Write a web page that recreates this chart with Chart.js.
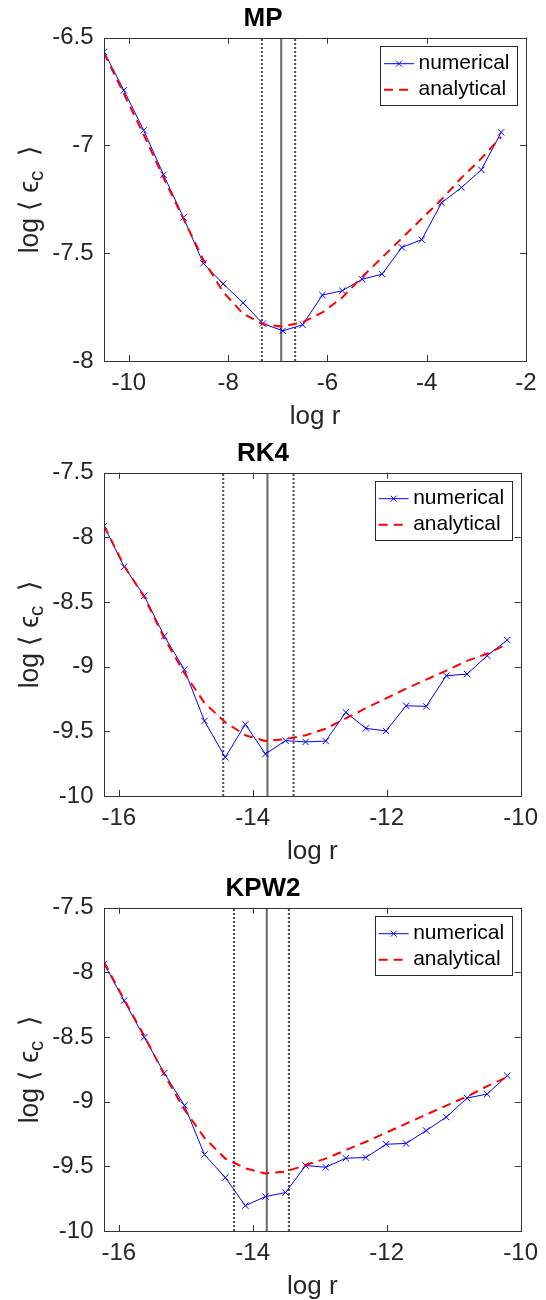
<!DOCTYPE html>
<html>
<head>
<meta charset="utf-8">
<script src="https://cdn.jsdelivr.net/npm/chart.js@4.4.1/dist/chart.umd.min.js"></script>
<style>
html, body { margin: 0; padding: 0; background: #fff; overflow: hidden; }
canvas { display: block; }
</style>
</head>
<body>
<canvas id="chartMP" width="546" height="435"></canvas>
<canvas id="chartRK4" width="546" height="435"></canvas>
<canvas id="chartKPW2" width="546" height="435"></canvas>
<script>
// MP
var mpX = [-10.5, -10.1, -9.7, -9.3, -8.9, -8.5, -8.1, -7.7, -7.3, -6.9, -6.5, -6.1, -5.7, -5.3, -4.9, -4.5, -4.1, -3.7, -3.3, -2.9, -2.5];
var mpNum = [-6.565, -6.744, -6.93, -7.136, -7.334, -7.547, -7.642, -7.73, -7.826, -7.86, -7.832, -7.694, -7.674, -7.621, -7.597, -7.473, -7.437, -7.266, -7.195, -7.113, -6.939];
var mpAna = [-6.57, -6.76, -6.95, -7.15, -7.34, -7.53, -7.68, -7.78, -7.83, -7.84, -7.82, -7.775, -7.705, -7.61, -7.52, -7.43, -7.34, -7.25, -7.15, -7.06, -6.96];
var mpLines = [-7.32, -6.93, -6.65];
var mpXTicks = [-10, -8, -6, -4, -2];
var mpYTicks = [-6.5, -7, -7.5, -8];

// RK4
var rkX = [-16.22, -15.92, -15.62, -15.32, -15.02, -14.72, -14.41, -14.11, -13.81, -13.51, -13.21, -12.91, -12.61, -12.31, -12.01, -11.71, -11.41, -11.11, -10.80, -10.50, -10.20];
var rkNum = [-7.912, -8.227, -8.451, -8.763, -9.023, -9.42, -9.701, -9.446, -9.675, -9.572, -9.582, -9.575, -9.353, -9.477, -9.497, -9.302, -9.307, -9.07, -9.057, -8.915, -8.794];
var rkAna = [-7.91, -8.22, -8.46, -8.78, -9.05, -9.28, -9.43, -9.53, -9.575, -9.56, -9.53, -9.48, -9.40, -9.32, -9.245, -9.17, -9.10, -9.03, -8.955, -8.90, -8.825];
var rkLines = [-14.44, -13.78, -13.39];

// KPW2
var kpX = [-16.22, -15.92, -15.62, -15.32, -15.02, -14.72, -14.41, -14.11, -13.81, -13.51, -13.21, -12.91, -12.61, -12.31, -12.01, -11.71, -11.41, -11.11, -10.80, -10.50, -10.20];
var kpNum = [-7.934, -8.218, -8.502, -8.779, -9.029, -9.409, -9.587, -9.804, -9.734, -9.703, -9.494, -9.507, -9.437, -9.432, -9.329, -9.323, -9.223, -9.119, -8.972, -8.941, -8.799];
var kpAna = [-7.92, -8.21, -8.49, -8.79, -9.06, -9.28, -9.44, -9.515, -9.555, -9.54, -9.49, -9.44, -9.375, -9.31, -9.24, -9.17, -9.10, -9.03, -8.96, -8.88, -8.81];
var kpLines = [-14.28, -13.79, -13.46];

var rkXTicks = [-16, -14, -12, -10];
var rkYTicks = [-7.5, -8, -8.5, -9, -9.5, -10];

var FONT = "'Liberation Sans', Arial, Helvetica, sans-serif";
Chart.defaults.font.family = FONT;
Chart.defaults.color = '#262626';

// box round the plot with inward ticks on all four sides
var frameTicks = {
    id: 'frameTicks',
    afterDatasetsDraw: function (chart) {
        var ctx = chart.ctx, a = chart.chartArea;
        var xs = chart.scales.x, ys = chart.scales.y;
        ctx.save();
        ctx.strokeStyle = '#333333';
        ctx.lineWidth = 1;
        ctx.beginPath();
        xs.ticks.forEach(function (t) {
            var px = Math.round(xs.getPixelForValue(t.value)) + 0.5;
            ctx.moveTo(px, a.bottom); ctx.lineTo(px, a.bottom - 6);
            ctx.moveTo(px, a.top); ctx.lineTo(px, a.top + 6);
        });
        ys.ticks.forEach(function (t) {
            var py = Math.round(ys.getPixelForValue(t.value)) + 0.5;
            ctx.moveTo(a.left, py); ctx.lineTo(a.left + 6, py);
            ctx.moveTo(a.right, py); ctx.lineTo(a.right - 6, py);
        });
        ctx.stroke();
        ctx.strokeRect(Math.round(a.left) + 0.5, Math.round(a.top) + 0.5,
            Math.round(a.right - a.left), Math.round(a.bottom - a.top));
        ctx.restore();
    }
};

// legend box inside the plot, top right
var boxLegend = {
    id: 'boxLegend',
    afterDraw: function (chart) {
        var ctx = chart.ctx, a = chart.chartArea;
        var w = 137, h = 59;
        var left = a.right - 9 - w, top = a.top + 8;
        ctx.save();
        ctx.fillStyle = '#ffffff';
        ctx.fillRect(left, top, w, h);
        ctx.strokeStyle = '#262626';
        ctx.lineWidth = 1;
        ctx.strokeRect(Math.round(left) + 0.5, Math.round(top) + 0.5, w, h);
        var y1 = top + 18, y2 = top + 44;
        // numerical
        ctx.strokeStyle = '#0000ff';
        ctx.beginPath();
        ctx.moveTo(left + 4, y1); ctx.lineTo(left + 34, y1);
        ctx.moveTo(left + 16, y1 - 3); ctx.lineTo(left + 22, y1 + 3);
        ctx.moveTo(left + 16, y1 + 3); ctx.lineTo(left + 22, y1 - 3);
        ctx.stroke();
        // analytical
        ctx.strokeStyle = '#ff0000';
        ctx.lineWidth = 2;
        ctx.setLineDash([9, 6]);
        ctx.beginPath();
        ctx.moveTo(left + 4, y2); ctx.lineTo(left + 34, y2);
        ctx.stroke();
        ctx.setLineDash([]);
        ctx.fillStyle = '#000000';
        ctx.font = '21px ' + FONT;
        ctx.textBaseline = 'middle';
        ctx.fillText('numerical', left + 38.5, y1);
        ctx.fillText('analytical', left + 38.5, y2);
        ctx.restore();
    }
};

// y axis title with a subscript c
var yTitle = {
    id: 'yTitle',
    afterDraw: function (chart) {
        var ctx = chart.ctx, a = chart.chartArea;
        var big = '27px ' + FONT, small = '21px ' + FONT;
        ctx.save();
        ctx.translate(38, (a.top + a.bottom) / 2);
        ctx.rotate(-Math.PI / 2);
        ctx.fillStyle = '#262626';
        ctx.textBaseline = 'alphabetic';
        ctx.font = big;
        var w1 = ctx.measureText('log \u27E8 \u03F5').width;
        var w3 = ctx.measureText('  \u27E9').width;
        ctx.font = small;
        var w2 = ctx.measureText('c').width;
        var total = w1 + w2 + w3;
        var sx = Math.min(1, 108 / total);
        ctx.scale(sx, 1);
        var x = -total / 2;
        ctx.font = big;
        ctx.fillText('log \u27E8 \u03F5', x, 0);
        x += w1;
        ctx.font = small;
        ctx.fillText('c', x, 5);
        x += w2;
        ctx.font = big;
        ctx.fillText('  \u27E9', x, 0);
        ctx.restore();
    }
};

function pts(xs, ys) {
    return xs.map(function (v, i) { return { x: v, y: ys[i] }; });
}

function vline(v, yMin, yMax, dotted) {
    return {
        data: [{ x: v, y: yMin }, { x: v, y: yMax }],
        borderColor: dotted ? '#4d4d4d' : '#666666',
        borderWidth: dotted ? 2 : 2,
        borderDash: dotted ? [2, 2] : [],
        pointRadius: 0,
        order: 2
    };
}

function makeChart(id, title, xs, num, ana, lines, xMin, xMax, yMin, yMax, xTicks, yTicks) {
    var data = {
        datasets: [{
            label: 'analytical',
            data: pts(xs, ana),
            borderColor: '#ff0000',
            borderWidth: 2,
            borderDash: [9, 6],
            pointRadius: 0,
            order: 0
        }, {
            label: 'numerical',
            data: pts(xs, num),
            borderColor: '#0000ff',
            backgroundColor: '#0000ff',
            borderWidth: 1,
            pointStyle: 'crossRot',
            pointRadius: 4.5,
            pointBorderWidth: 1,
            order: 1
        },
        vline(lines[0], yMin, yMax, true),
        vline(lines[1], yMin, yMax, false),
        vline(lines[2], yMin, yMax, true)]
    };

    var config = {
        type: 'line',
        data: data,
        options: {
            responsive: false,
            animation: false,
            devicePixelRatio: 1,
            layout: { padding: { left: 0, right: 20, top: 0, bottom: 0 } },
            plugins: {
                legend: { display: false },
                tooltip: { enabled: false },
                title: {
                    display: true,
                    text: title,
                    color: '#000000',
                    font: { size: 26, weight: 'bold' },
                    padding: { top: 3.5, bottom: 3 }
                }
            },
            scales: {
                x: {
                    type: 'linear',
                    min: xMin,
                    max: xMax,
                    grid: { display: false, drawTicks: false },
                    border: { display: false },
                    afterBuildTicks: function (s) { s.ticks = xTicks.map(function (v) { return { value: v }; }); },
                    afterFit: function (s) { s.height = 74; },
                    ticks: {
                        font: { size: 24 },
                        color: '#262626',
                        padding: 8,
                        maxRotation: 0,
                        callback: function (v) { return String(v); }
                    },
                    title: {
                        display: true,
                        text: 'log r',
                        color: '#262626',
                        font: { size: 26 },
                        padding: { top: 0, bottom: 3 }
                    }
                },
                y: {
                    min: yMin,
                    max: yMax,
                    grid: { display: false, drawTicks: false },
                    border: { display: false },
                    afterBuildTicks: function (s) { s.ticks = yTicks.map(function (v) { return { value: v }; }); },
                    afterFit: function (s) { s.width = 104; },
                    ticks: {
                        font: { size: 24 },
                        color: '#262626',
                        padding: 10.5,
                        callback: function (v) { return String(v); }
                    }
                }
            }
        },
        plugins: [frameTicks, boxLegend, yTitle]
    };

    return new Chart(document.getElementById(id), config);
}

makeChart('chartMP', 'MP', mpX, mpNum, mpAna, mpLines, -10.5, -2, -8, -6.5, mpXTicks, mpYTicks);
makeChart('chartRK4', 'RK4', rkX, rkNum, rkAna, rkLines, -16.22, -10, -10, -7.5, rkXTicks, rkYTicks);
makeChart('chartKPW2', 'KPW2', kpX, kpNum, kpAna, kpLines, -16.22, -10, -10, -7.5, rkXTicks, rkYTicks);
</script>
</body>
</html>
